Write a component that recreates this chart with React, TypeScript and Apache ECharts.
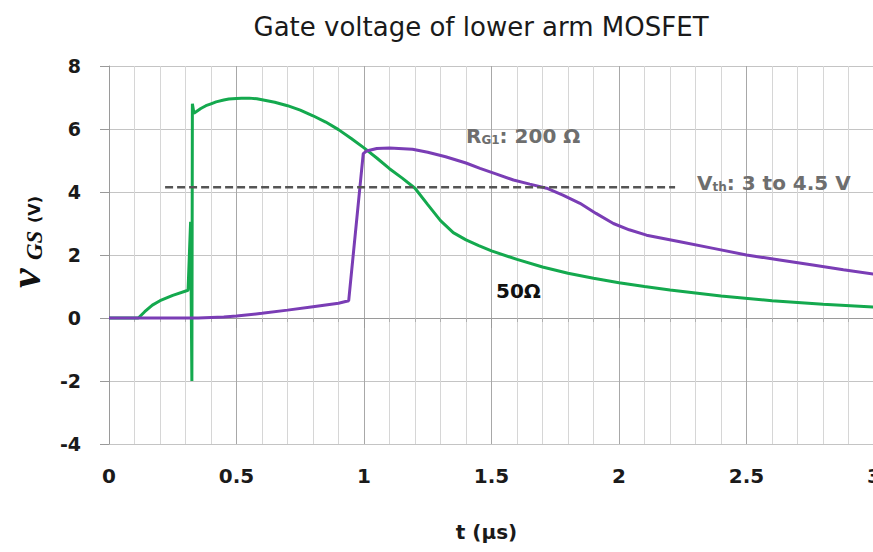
import React, { useEffect, useRef } from "react";
import * as echarts from "echarts";

// time (µs) and gate voltage (V) for RG1 = 50 Ω (green)
const tGreen = [0, 0.115, 0.14, 0.17, 0.2, 0.25, 0.31, 0.32, 0.325, 0.327, 0.333, 0.36, 0.38, 0.4, 0.42, 0.45, 0.47, 0.5, 0.52, 0.55, 0.58, 0.6, 0.65, 0.7, 0.75, 0.8, 0.85, 0.9, 0.95, 1.0, 1.05, 1.1, 1.15, 1.2, 1.25, 1.3, 1.35, 1.4, 1.45, 1.5, 1.6, 1.7, 1.8, 1.9, 2.0, 2.1, 2.2, 2.4, 2.6, 2.8, 3.0];
const vGreen = [0, 0, 0.2, 0.41, 0.55, 0.72, 0.88, 3.05, -2.0, 6.8, 6.5, 6.65, 6.74, 6.8, 6.86, 6.92, 6.95, 6.97, 6.98, 6.98, 6.96, 6.93, 6.85, 6.74, 6.6, 6.42, 6.22, 5.98, 5.7, 5.4, 5.08, 4.74, 4.44, 4.12, 3.6, 3.09, 2.71, 2.48, 2.3, 2.13, 1.86, 1.62, 1.42, 1.26, 1.12, 1.0, 0.89, 0.7, 0.55, 0.44, 0.35];

// time (µs) and gate voltage (V) for RG1 = 200 Ω (purple)
const tPurple = [0, 0.35, 0.45, 0.5, 0.6, 0.7, 0.8, 0.9, 0.94, 0.997, 1.01, 1.05, 1.1, 1.19, 1.25, 1.32, 1.4, 1.455, 1.52, 1.586, 1.65, 1.716, 1.78, 1.847, 1.91, 1.978, 2.04, 2.108, 2.239, 2.37, 2.5, 2.63, 2.76, 2.88, 3.0];
const vPurple = [0, 0, 0.03, 0.06, 0.15, 0.25, 0.36, 0.47, 0.55, 5.22, 5.3, 5.38, 5.4, 5.36, 5.26, 5.12, 4.92, 4.75, 4.57, 4.38, 4.25, 4.12, 3.9, 3.64, 3.32, 3.0, 2.8, 2.63, 2.42, 2.21, 2.0, 1.84, 1.68, 1.53, 1.39];

// threshold voltage reference (dashed)
const tThreshold = [0.22, 2.22];
const vThreshold = [4.15, 4.15];

const X_MIN = 0, X_MAX = 3, X_STEP = 0.5;
const Y_MIN = -4, Y_MAX = 8, Y_STEP = 2;

const zip = (a: number[], b: number[]) => a.map((t, i) => [t, b[i]]);

const SANS = "DejaVu Sans";
const SERIF = "Liberation Serif";

export default function App() {
  const ref = useRef<HTMLDivElement>(null);
  useEffect(() => {
    if (!ref.current) return;
    const chart = echarts.init(ref.current, undefined, { renderer: "svg" });
    chart.setOption({
      animation: false,
      backgroundColor: "#ffffff",
      title: {
        text: "Gate voltage of lower arm MOSFET",
        left: 476,
        top: 9,
        textAlign: "center",
        textStyle: { fontFamily: SANS, fontSize: 26, fontWeight: "normal", color: "#1a1a1a" },
      },
      grid: { left: 109, right: -1, top: 66, bottom: 108, containLabel: false, outerBoundsMode: "none" },
      xAxis: {
        type: "value",
        min: X_MIN,
        max: X_MAX,
        interval: X_STEP,
        name: "t (µs)",
        nameLocation: "middle",
        nameGap: 78,
        nameTextStyle: { fontFamily: SANS, fontSize: 20, fontWeight: "bold", color: "#1a1a1a", padding: [0, 10, 0, 0] },
        axisLine: { show: true, lineStyle: { color: "#9a9a9a", width: 1 } },
        axisTick: { show: true, length: 10, lineStyle: { color: "#9a9a9a" } },
        minorTick: { show: true, splitNumber: 5, length: 4, lineStyle: { color: "#b0b0b0" } },
        axisLabel: { margin: 22, fontFamily: SANS, fontSize: 20, fontWeight: "bold", color: "#1a1a1a" },
        splitLine: { show: true, lineStyle: { color: "#a8a8a8", width: 1 } },
        minorSplitLine: { show: true, lineStyle: { color: "#d6d6d6", width: 1 } },
      },
      yAxis: {
        type: "value",
        min: Y_MIN,
        max: Y_MAX,
        interval: Y_STEP,
        axisLine: { show: true, lineStyle: { color: "#9a9a9a", width: 1 } },
        axisTick: { show: true, length: 9, lineStyle: { color: "#9a9a9a" } },
        axisLabel: { margin: 28, fontFamily: SANS, fontSize: 19, fontWeight: "bold", color: "#1a1a1a" },
        splitLine: { show: true, lineStyle: { color: "#c4c4c4", width: 1 } },
      },
      series: [
        {
          name: "200 Ω",
          type: "line",
          data: zip(tPurple, vPurple),
          showSymbol: false,
          lineStyle: { color: "#7a3db5", width: 3 },
          z: 3,
        },
        {
          name: "50 Ω",
          type: "line",
          data: zip(tGreen, vGreen),
          showSymbol: false,
          lineStyle: { color: "#14a94e", width: 3 },
          z: 2,
        },
        {
          name: "Vth",
          type: "line",
          data: zip(tThreshold, vThreshold),
          showSymbol: false,
          lineStyle: { color: "#555555", width: 2.5, type: [8, 4] },
          z: 4,
        },
      ],
      graphic: [
        {
          type: "text",
          x: 466,
          y: 146,
          z: 10,
          style: {
            text: "{a|R}{b|G1}{a|: 200 Ω}",
            textAlign: "left",
            textVerticalAlign: "bottom",
            rich: {
              a: { fontFamily: SANS, fontSize: 20, fontWeight: "bold", fill: "#6e6e6e", verticalAlign: "bottom" },
              b: { fontFamily: SANS, fontSize: 12, fontWeight: "bold", fill: "#6e6e6e", verticalAlign: "bottom" },
            },
          },
        },
        {
          type: "text",
          x: 697,
          y: 192.5,
          z: 10,
          style: {
            text: "{a|V}{b|th}{a|: 3 to 4.5 V}",
            textAlign: "left",
            textVerticalAlign: "bottom",
            rich: {
              a: { fontFamily: SANS, fontSize: 20, fontWeight: "bold", fill: "#6e6e6e", verticalAlign: "bottom" },
              b: { fontFamily: SANS, fontSize: 12, fontWeight: "bold", fill: "#6e6e6e", verticalAlign: "bottom" },
            },
          },
        },
        {
          type: "text",
          x: 496,
          y: 290.5,
          z: 10,
          style: {
            text: "50Ω",
            textAlign: "left",
            textVerticalAlign: "middle",
            fontFamily: SANS,
            fontSize: 20,
            fontWeight: "bold",
            fill: "#111111",
          },
        },
        {
          type: "text",
          x: 25.5,
          y: 288,
          rotation: Math.PI / 2,
          z: 10,
          style: {
            text: "v",
            textAlign: "left",
            textVerticalAlign: "middle",
            fontFamily: SERIF,
            fontStyle: "italic",
            fontWeight: "bold",
            fontSize: 44,
            fill: "#111111",
          },
        },
        {
          type: "text",
          x: 34.5,
          y: 260,
          rotation: Math.PI / 2,
          z: 10,
          style: {
            text: "GS",
            textAlign: "left",
            textVerticalAlign: "middle",
            fontFamily: SERIF,
            fontStyle: "italic",
            fontWeight: "bold",
            fontSize: 23,
            fill: "#111111",
          },
        },
        {
          type: "text",
          x: 34.5,
          y: 223,
          rotation: Math.PI / 2,
          z: 10,
          style: {
            text: "(V)",
            textAlign: "left",
            textVerticalAlign: "middle",
            fontFamily: SANS,
            fontWeight: "bold",
            fontSize: 16,
            fill: "#111111",
          },
        },
      ],
    });
    return () => chart.dispose();
  }, []);
  return (
    <div
      ref={ref}
      style={{ position: "fixed", left: 0, top: 0, width: 873, height: 552 }}
    />
  );
}
